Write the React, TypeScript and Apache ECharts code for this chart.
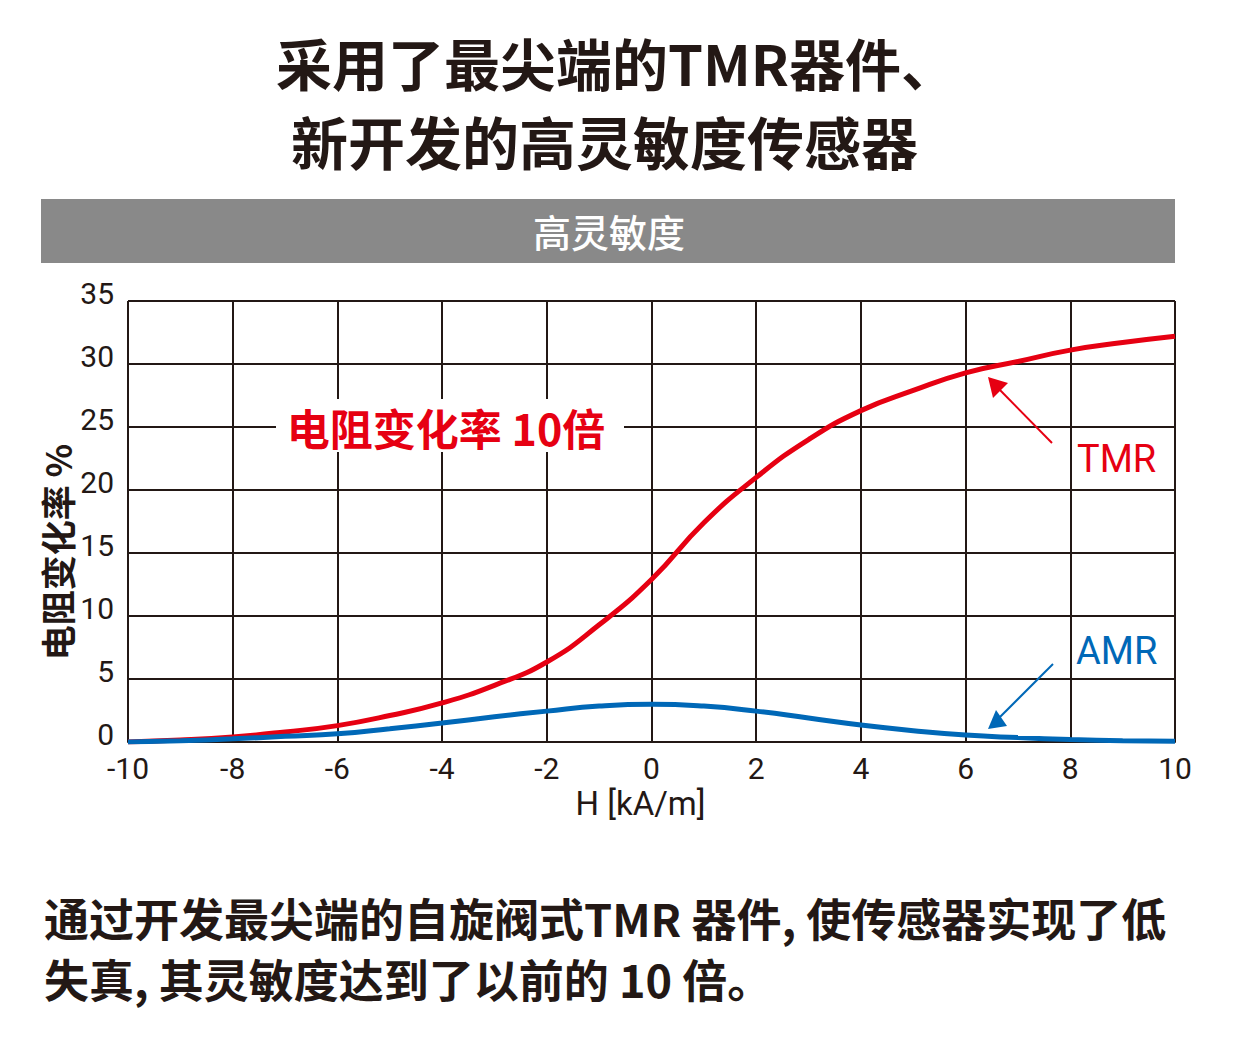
import React, { useEffect, useRef } from "react";
import * as echarts from "echarts";

const hValues = [-10, -9, -8, -7, -6, -5, -4, -3, -2, -1, 0, 1, 2, 3, 4, 5, 6, 7, 8, 9, 10];
const tmrValues = [0, 0.15, 0.4, 0.8, 1.3, 2.1, 3.1, 4.5, 6.35, 9.3, 12.9, 17.4, 21.0, 24.0, 26.3, 27.9, 29.3, 30.2, 31.1, 31.7, 32.2];
const amrValues = [0, 0.1, 0.25, 0.45, 0.65, 1.05, 1.5, 2.0, 2.45, 2.85, 3.0, 2.85, 2.45, 1.9, 1.35, 0.9, 0.55, 0.35, 0.2, 0.1, 0.05];

const titleLine1 = "采用了最尖端的TMR器件、";
const titleLine2 = "新开发的高灵敏度传感器";
const bannerText = "高灵敏度";
const yAxisName = "电阻变化率 %";
const xAxisName = "H [kA/m]";
const ratioNote = "电阻变化率 10倍";
const tmrLabel = "TMR";
const amrLabel = "AMR";
const footLine1 = "通过开发最尖端的自旋阀式TMR 器件, 使传感器实现了低";
const footLine2 = "失真, 其灵敏度达到了以前的 10 倍。";

const INK = "#231815";
const RED = "#e60012";
const BLUE = "#0068b7";
const CJK = '"Noto Sans CJK SC", "Noto Sans", sans-serif';
const LATIN = '"Liberation Sans Narrow", "Roboto", "Noto Sans", sans-serif';

export default function App() {
  const ref = useRef<HTMLDivElement>(null);
  useEffect(() => {
    if (!ref.current) return;
    const chart = echarts.init(ref.current, undefined, { renderer: "svg" });
    const tmrData = hValues.map((h, i) => [h, tmrValues[i]]);
    const amrData = hValues.map((h, i) => [h, amrValues[i]]);
    chart.setOption({
      animation: false,
      backgroundColor: "#ffffff",
      grid: { left: 128, right: 65, top: 301, bottom: 299, containLabel: false },
      xAxis: {
        type: "value",
        min: -10,
        max: 10,
        interval: 2,
        name: xAxisName,
        nameLocation: "middle",
        nameGap: 45,
        nameTextStyle: { color: INK, fontSize: 33, fontFamily: LATIN, lineHeight: 33, padding: [0, 22, 0, 0] },
        axisLine: { show: true, onZero: false, lineStyle: { color: INK, width: 2 } },
        axisTick: { show: false },
        axisLabel: { color: INK, fontSize: 30, fontFamily: LATIN, margin: 11, lineHeight: 30 },
        splitLine: { show: true, lineStyle: { color: INK, width: 2 } },
      },
      yAxis: {
        type: "value",
        min: 0,
        max: 35,
        interval: 5,
        axisLine: { show: true, lineStyle: { color: INK, width: 2 } },
        axisTick: { show: false },
        axisLabel: { color: INK, fontSize: 30, fontFamily: LATIN, margin: 14, verticalAlign: "bottom", lineHeight: 16 },
        splitLine: { show: true, lineStyle: { color: INK, width: 2 } },
      },
      series: [
        {
          name: "TMR",
          type: "line",
          data: tmrData,
          smooth: 0.5,
          showSymbol: false,
          lineStyle: { color: RED, width: 5 },
          z: 3,
        },
        {
          name: "AMR",
          type: "line",
          data: amrData,
          smooth: 0.5,
          showSymbol: false,
          lineStyle: { color: BLUE, width: 5 },
          z: 4,
        },
      ],
      graphic: [
        { type: "text", x: 276, y: 61, z: 100, style: { text: titleLine1, fontSize: 56, fontWeight: "bold", fontFamily: CJK, fill: INK, align: "left", verticalAlign: "middle" } },
        { type: "text", x: 291, y: 140, z: 100, style: { text: titleLine2, fontSize: 57, fontWeight: "bold", fontFamily: CJK, fill: INK, align: "left", verticalAlign: "middle" } },
        { type: "rect", x: 41, y: 199, z: 100, shape: { width: 1134, height: 64 }, style: { fill: "#898989" } },
        { type: "text", x: 609, y: 230, z: 101, style: { text: bannerText, fontSize: 38, fontWeight: 500, fontFamily: CJK, fill: "#ffffff", align: "center", verticalAlign: "middle" } },
        { type: "text", x: 56, y: 552, rotation: Math.PI / 2, z: 100, style: { text: yAxisName, fontSize: 35, fontWeight: "bold", fontFamily: CJK, fill: INK, align: "center", verticalAlign: "middle" } },
        { type: "rect", x: 276, y: 399, z: 100, shape: { width: 348, height: 53 }, style: { fill: "#ffffff" } },
        { type: "text", x: 446, y: 427, z: 101, style: { text: ratioNote, fontSize: 43, fontWeight: "bold", fontFamily: CJK, fill: RED, align: "center", verticalAlign: "middle" } },
        { type: "text", x: 1077, y: 459, z: 100, style: { text: tmrLabel, fontSize: 38, fontFamily: LATIN, fill: RED, align: "left", verticalAlign: "middle" } },
        { type: "text", x: 1076, y: 651, z: 100, style: { text: amrLabel, fontSize: 38, fontFamily: LATIN, fill: BLUE, align: "left", verticalAlign: "middle" } },
        { type: "line", z: 100, shape: { x1: 1052, y1: 443, x2: 998, y2: 388 }, style: { stroke: RED, lineWidth: 2 } },
        { type: "polygon", z: 100, shape: { points: [[988, 377], [993, 398], [1008, 383]] }, style: { fill: RED } },
        { type: "line", z: 100, shape: { x1: 1053, y1: 664, x2: 999, y2: 718 }, style: { stroke: BLUE, lineWidth: 2 } },
        { type: "polygon", z: 100, shape: { points: [[988, 729], [996, 710], [1007, 726]] }, style: { fill: BLUE } },
        { type: "text", x: 44, y: 917, z: 100, style: { text: footLine1, fontSize: 45, fontWeight: "bold", fontFamily: CJK, fill: INK, align: "left", verticalAlign: "middle" } },
        { type: "text", x: 44, y: 978, z: 100, style: { text: footLine2, fontSize: 45, fontWeight: "bold", fontFamily: CJK, fill: INK, align: "left", verticalAlign: "middle" } },
      ],
    });
    return () => chart.dispose();
  }, []);
  return (
    <div
      ref={ref}
      style={{ position: "absolute", left: 0, top: 0, width: 1240, height: 1041, background: "#ffffff" }}
    />
  );
}
